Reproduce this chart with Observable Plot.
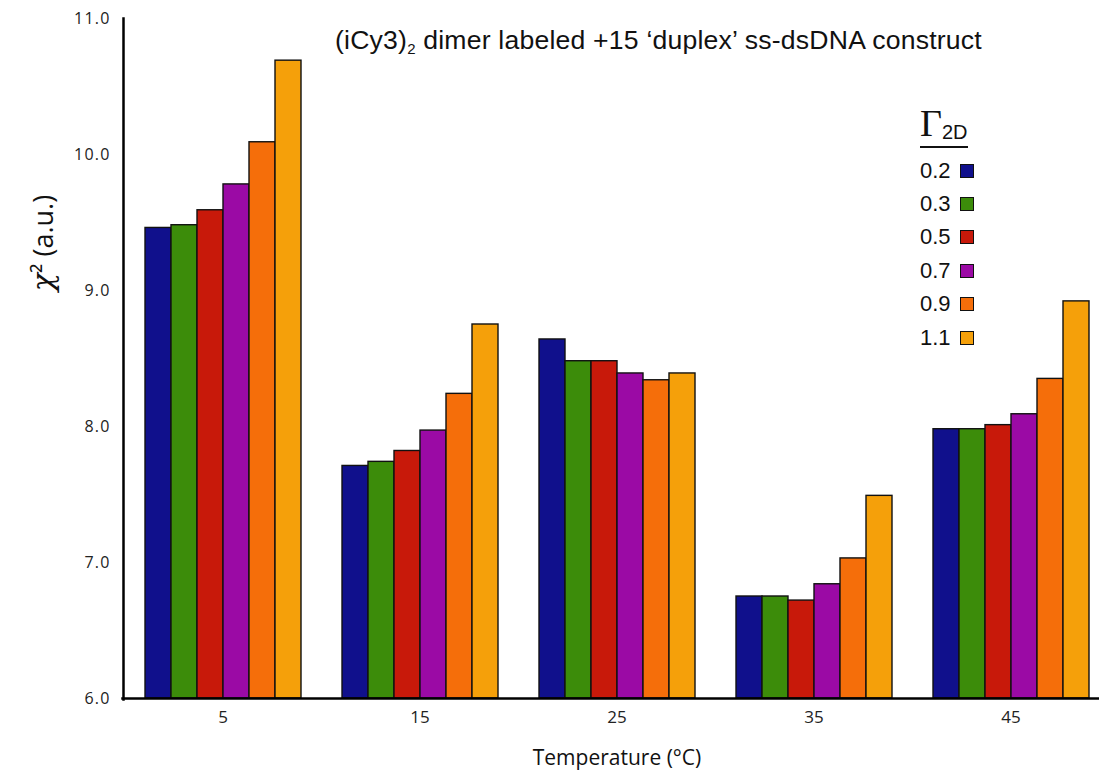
<!DOCTYPE html>
<html>
<head>
<meta charset="utf-8">
<script src="https://cdn.jsdelivr.net/npm/d3@7"></script>
<script src="https://cdn.jsdelivr.net/npm/@observablehq/plot@0.6"></script>
<style>
  html, body { margin: 0; padding: 0; background: #fff; }
  #wrap { position: relative; width: 1099px; height: 773px; overflow: hidden; background: #fff; }
  #wrap svg { position: absolute; left: 0; top: 0; }
  g[aria-label="y-axis tick label"] text { font-size: 16px; letter-spacing: 1.2px; fill: #222; }
  g[aria-label="fx-axis tick label"] text { font-size: 17px; fill: #222; }
  .title { position: absolute; left: 335px; top: 25px; font: 26.6px "Liberation Sans", Arial, sans-serif; letter-spacing: 0.2px; color: #111; white-space: nowrap; }
  .title sub { font-size: 15px; vertical-align: -5px; line-height: 0; }
  .ylab { position: absolute; left: 42px; top: 243px; transform: translate(-50%, -50%) rotate(-90deg); font: 27px "Open Sans", sans-serif; color: #111; white-space: nowrap; }
  .ylab i { font-family: "DejaVu Serif", serif; font-size: 30px; }
  .xlab { position: absolute; left: 617px; top: 757px; transform: translate(-50%, -50%); font: 21px "Open Sans", sans-serif; color: #111; white-space: nowrap; }
  .legend { position: absolute; left: 920px; top: 101px; font: 22px "Liberation Sans", Arial, sans-serif; color: #111; }
  .legend .head { display: inline-block; border-bottom: 2px solid #111; padding-bottom: 1px; margin-bottom: 6px; white-space: nowrap; }
  .legend .head .G { font: 38px "Liberation Serif", "Times New Roman", serif; }
  .legend .head sub { font: 20px "Liberation Sans", Arial, sans-serif; vertical-align: -3px; line-height: 0; }
  .legend .row { height: 33.4px; display: flex; align-items: center; white-space: nowrap; }
  .legend .sw { display: inline-block; width: 12px; height: 12px; border: 1.3px solid #111; margin-left: 9px; }
</style>
</head>
<body>
<div id="wrap"></div>
<script>
// ---- data ----
const temps = [5, 15, 25, 35, 45];
const gammas = ["0.2", "0.3", "0.5", "0.7", "0.9", "1.1"];
const colors = ["#10108c", "#3c8c0a", "#c8190a", "#9b0aa5", "#f56e0a", "#f5a00a"];
const chi2_T5  = [9.46, 9.48, 9.59, 9.78, 10.09, 10.69];
const chi2_T15 = [7.71, 7.74, 7.82, 7.97, 8.24, 8.75];
const chi2_T25 = [8.64, 8.48, 8.48, 8.39, 8.34, 8.39];
const chi2_T35 = [6.75, 6.75, 6.72, 6.84, 7.03, 7.49];
const chi2_T45 = [7.98, 7.98, 8.01, 8.09, 8.35, 8.92];
const yTicks = [6, 7, 8, 9, 10, 11];
const yMin = 6, yMax = 11;
const titleText = ["(iCy3)", "2", " dimer labeled +15 \u2018duplex\u2019 ss-dsDNA construct"];
const yLabel = ["\u03C7", "\u00B2 (a.u.)"];
const xLabel = "Temperature (\u00B0C)";

const series = [chi2_T5, chi2_T15, chi2_T25, chi2_T35, chi2_T45];
const data = [];
temps.forEach((t, i) => gammas.forEach((g, j) => data.push({temp: t, gamma: g, value: series[i][j]})));

const axisShift = -20;

const chart = Plot.plot({
  width: 1099,
  height: 773,
  marginLeft: 123,
  marginRight: 0,
  marginTop: 18,
  marginBottom: 75,
  style: {fontFamily: "'Open Sans', sans-serif", background: "transparent"},
  fx: {domain: temps, paddingInner: 0.194, paddingOuter: 0.071, align: 0.67, label: null, tickSize: 0, tickPadding: 12},
  x: {domain: gammas, padding: 0, axis: null},
  y: {domain: [yMin, yMax], label: null},
  color: {domain: gammas, range: colors},
  marks: [
    Plot.axisY({ticks: yTicks, tickFormat: d => d.toFixed(1), tickSize: 0, tickPadding: 13, label: null, dx: axisShift}),
    Plot.barY(data, {fx: "temp", x: "gamma", y1: yMin, y2: "value", fill: "gamma", stroke: "#111", strokeWidth: 1.4}),
    Plot.frame({anchor: "bottom", facet: "super", stroke: "#000", strokeWidth: 2.5, insetLeft: axisShift - 1, insetRight: -20}),
    Plot.frame({anchor: "left", facet: "super", stroke: "#000", strokeWidth: 2.5, insetLeft: axisShift, insetBottom: -1})
  ]
});

const wrap = document.getElementById("wrap");
wrap.appendChild(chart);

// title
const title = document.createElement("div");
title.className = "title";
title.innerHTML = `${titleText[0]}<sub>${titleText[1]}</sub>${titleText[2]}`;
wrap.appendChild(title);

// y label
const yl = document.createElement("div");
yl.className = "ylab";
yl.innerHTML = `<i>${yLabel[0]}</i>${yLabel[1]}`;
wrap.appendChild(yl);

// x label
const xl = document.createElement("div");
xl.className = "xlab";
xl.textContent = xLabel;
wrap.appendChild(xl);

// legend
const lg = document.createElement("div");
lg.className = "legend";
let html = `<div class="head"><span class="G">\u0393</span><sub>2D</sub></div>`;
gammas.forEach((g, i) => {
  html += `<div class="row"><span>${g}</span><span class="sw" style="background:${colors[i]}"></span></div>`;
});
lg.innerHTML = html;
wrap.appendChild(lg);
</script>
</body>
</html>
